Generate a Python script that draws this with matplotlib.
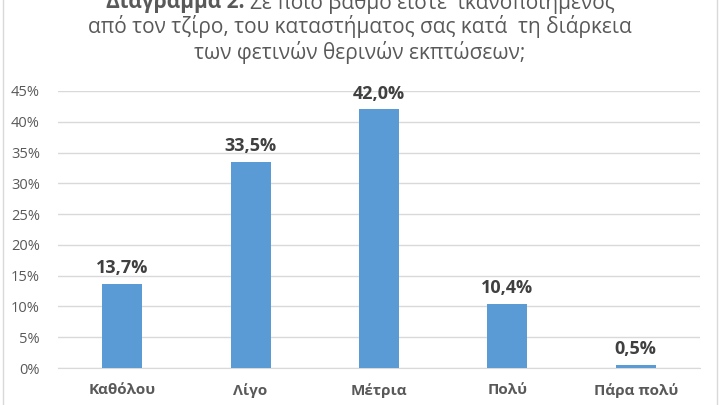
import matplotlib
matplotlib.use("Agg")
import matplotlib.pyplot as plt
from matplotlib.ticker import FuncFormatter, MultipleLocator
from matplotlib.patches import Rectangle

categories = ["Καθόλου", "Λίγο", "Μέτρια", "Πολύ", "Πάρα πολύ"]
values = [13.7, 33.5, 42.0, 10.4, 0.5]
value_labels = ["13,7%", "33,5%", "42,0%", "10,4%", "0,5%"]

plt.rcParams['font.family'] = ['Open Sans', 'DejaVu Sans']

fig = plt.figure(figsize=(7.2, 4.05), dpi=100)
ax = fig.add_axes([58/720, 1-368/405, 642/720, (368-91)/405])

x = list(range(len(categories)))
bars = ax.bar(x, values, width=0.31, color="#5B9BD5", zorder=3)
ax.set_xlim(-0.5, len(categories)-0.5)
ax.set_ylim(0, 45)
ax.yaxis.set_major_locator(MultipleLocator(5))
ax.yaxis.set_major_formatter(FuncFormatter(lambda v, p: f"{int(round(v))}%"))
ax.grid(axis="y", color="#D9D9D9", linewidth=1, zorder=0)
for s in ["top", "right", "left"]:
    ax.spines[s].set_visible(False)
ax.spines["bottom"].set_color("#D9D9D9")
ax.tick_params(axis="both", length=0, colors="#595959")
ax.tick_params(axis="y", pad=13, labelsize=10.5)
ax.set_xticks(x)
ax.set_xticklabels(categories, fontweight="bold", fontsize=11)
ax.tick_params(axis="x", pad=11)

for xi, v, lab in zip(x, values, value_labels):
    ax.annotate(lab, (xi, v), xytext=(0, 5), textcoords="offset points",
                ha="center", va="bottom", fontsize=13, fontweight="bold", color="#404040")

# title (first line partly clipped at top)
tc = "#595959"
tfs = 15
fig.text(0.5, 1-27/405, "από τον τζίρο, του καταστήματος σας κατά  τη διάρκεια",
         ha="center", va="center", fontsize=tfs, color=tc)
fig.text(0.5, 1-52/405, "των φετινών θερινών εκπτώσεων;",
         ha="center", va="center", fontsize=tfs, color=tc)
y1 = 1-2/405
ta = fig.text(0, y1, "Διάγραμμα 2: ", ha="left", va="center",
              fontsize=tfs, color=tc, fontweight="bold")
tb = fig.text(0, y1, "Σε ποιο βαθμό είστε  ικανοποιημένος", ha="left", va="center",
              fontsize=tfs, color=tc)
r = fig.canvas.get_renderer()
wa = ta.get_window_extent(r).width
wb = tb.get_window_extent(r).width
x0 = (720 - (wa + wb)) / 2
ta.set_x(x0/720)
tb.set_x((x0 + wa)/720)

# chart border
fig.add_artist(Rectangle((3/720, -0.01), 714/720, 1.05, transform=fig.transFigure,
                         fill=False, edgecolor="#D9D9D9", linewidth=1))

fig.savefig("out.png", dpi=100)
